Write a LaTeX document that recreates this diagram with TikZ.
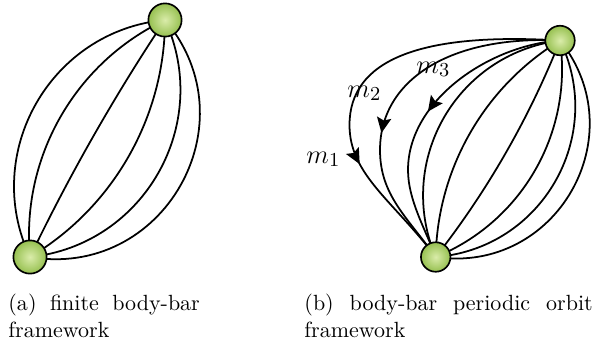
\documentclass[tikz,border=0pt]{standalone}
\usetikzlibrary{arrows.meta,decorations.markings}
\definecolor{ballin}{RGB}{218,236,170}
\definecolor{ballout}{RGB}{150,192,80}
\begin{document}
\begin{tikzpicture}[x=0.4545pt,y=-0.4545pt,
  bar/.style={line width=0.8pt},
  ball/.style={circle, draw=black, line width=0.75pt, inner sep=0pt,
    minimum size=#1, inner color=ballin, outer color=ballout},
  lab/.style={anchor=base west, inner sep=0pt, font=\fontsize{12.5}{15}\selectfont},
  captext/.style={anchor=north west, inner sep=0pt, align=justify, font=\fontsize{10}{12}\selectfont},
  arr/.style={postaction={decorate, decoration={markings,
    mark=at position #1 with {\arrow{Stealth[length=7pt,width=6.5pt,inset=1.2pt]}}}}}
]
\useasboundingbox (0,0) rectangle (594,342);
% ---- (a) ----
\coordinate (A) at (30,257);
\coordinate (B) at (165,20);
\draw[bar] (A) to[bend left=55, looseness=1.08] (B);
\draw[bar] (A) to[bend left=35, looseness=0.936] (B);
\draw[bar] (A) to[bend left=4, looseness=0.85] (B);
\draw[bar] (A) to[bend right=29.6, looseness=0.91] (B);
\draw[bar] (A) to[bend right=54.4, looseness=1.076] (B);
\draw[bar] (A) to[bend right=70, looseness=1.27] (B);
\node[ball=15.1pt] (a1) at (A) {};
\node[ball=15.1pt] (a2) at (B) {};
% ---- (b) ----
\coordinate (C) at (435.7,257);
\coordinate (D) at (560,40.5);
\draw[bar] (C) to[bend left=52.8, looseness=1.067] (D);
\draw[bar] (C) to[bend left=28.7, looseness=0.907] (D);
\draw[bar] (C) to[bend right=8.2, looseness=0.855] (D);
\draw[bar] (C) to[bend right=38, looseness=0.952] (D);
\draw[bar] (C) to[bend right=55.7, looseness=1.09] (D);
\draw[bar] (C) to[bend right=68.5, looseness=1.245] (D);
% m arcs
\draw[bar, arr=0.71] (D) .. controls (420,32) and (349.5,60) .. (349.5,125)
   .. controls (349.5,175) and (393.7,201) .. (C);
\draw[bar, arr=0.61] (D) .. controls (450,35) and (380,80) .. (380,150)
   .. controls (380,195) and (406.7,216.5) .. (C);
\draw[bar, arr=0.5] (D) .. controls (490,45) and (408,100) .. (408,170)
   .. controls (408,200) and (425.2,228.8) .. (C);
\node[ball=13.4pt] (b1) at (C) {};
\node[ball=13.4pt] (b2) at (D) {};
\node[lab] (m1) at (306,163) {$m_1$};
\node[lab] (m2) at (347,97) {$m_2$};
\node[lab] (m3) at (416,73) {$m_3$};
% captions
\node[captext, text width=87pt] (capa) at (8,294) {(a) finite body-bar\linebreak framework};
\node[captext, text width=131pt] (capb) at (304,294) {(b) body-bar periodic orbit\linebreak framework};
\end{tikzpicture}
\end{document}
